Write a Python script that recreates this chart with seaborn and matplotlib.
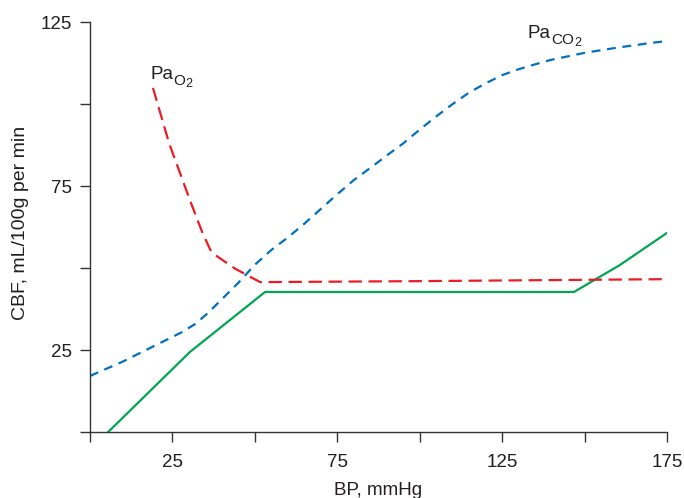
import matplotlib
matplotlib.use("Agg")
import matplotlib.pyplot as plt
import seaborn as sns
import pandas as pd

# Data
auto_x = [5.5, 30.3, 53.1, 146.8, 160.7, 175]
auto_y = [0, 24.4, 42.7, 42.7, 50.9, 60.7]

pao2_x = [19.1, 24, 30.3, 34, 36.5, 38.5, 44, 51.6, 100, 175]
pao2_y = [104.9, 88, 70.7, 61, 55.5, 53.6, 49.8, 45.7, 46.0, 46.6]

paco2_x = [0, 10, 20, 28, 32, 36, 40, 45, 50, 55, 60, 65, 70, 75, 80, 85, 90, 95,
           100, 105, 110, 115, 120, 125, 130, 135, 140, 150, 160, 170, 175]
paco2_y = [17.1, 21.5, 26.5, 30.5, 33, 36.5, 40.5, 45.5, 51, 55.5, 59.3, 63.5, 68,
           72.5, 76.8, 80.5, 84.3, 88, 92.2, 96.2, 100, 103.5, 106.3, 108.8, 110.6,
           112.1, 113.5, 115.6, 117.2, 118.6, 119.2]

x_ticks = [0, 25, 50, 75, 100, 125, 150, 175]
x_labels = ["", "25", "", "75", "", "125", "", "175"]
y_ticks = [0, 25, 50, 75, 100, 125]
y_labels = ["", "25", "", "75", "", "125"]

sns.set_style("ticks")
plt.rcParams['font.family'] = ['Liberation Sans', 'DejaVu Sans']

FS = 13.5
TXT = "#231f20"

fig = plt.figure(figsize=(6.84, 4.98), dpi=100)
ax = fig.add_axes([0.1316, 0.1325, 0.9751 - 0.1316, 0.9558 - 0.1325])

df_a = pd.DataFrame({"x": auto_x, "y": auto_y})
df_o = pd.DataFrame({"x": pao2_x, "y": pao2_y})
df_c = pd.DataFrame({"x": paco2_x, "y": paco2_y})

sns.lineplot(data=df_a, x="x", y="y", ax=ax, color="#00a651", lw=1.6, sort=False)
sns.lineplot(data=df_o, x="x", y="y", ax=ax, color="#ed1c24", lw=1.6, sort=False,
             linestyle=(0, (6, 3)))
sns.lineplot(data=df_c, x="x", y="y", ax=ax, color="#0070c0", lw=1.6, sort=False,
             linestyle=(0, (4, 3)))

ax.set_xlim(0, 175)
ax.set_ylim(0, 125)
ax.set_xticks(x_ticks)
ax.set_xticklabels(x_labels)
ax.set_yticks(y_ticks)
ax.set_yticklabels(y_labels)
ax.tick_params(axis="both", direction="out", length=7, width=1, labelsize=FS,
               color="#333333", labelcolor=TXT)
ax.tick_params(axis="x", pad=9)
ax.tick_params(axis="y", pad=6)
for s in ["top", "right"]:
    ax.spines[s].set_visible(False)
for s in ["left", "bottom"]:
    ax.spines[s].set_linewidth(1)
    ax.spines[s].set_color("#333333")

ax.set_xlabel("BP, mmHg", fontsize=FS, color=TXT, labelpad=8)
ax.set_ylabel("CBF, mL/100g per min", fontsize=14, color=TXT, labelpad=7)
ax.yaxis.set_label_coords(-0.105, 0.51)


def sub_label(x, y, sub):
    t1 = ax.text(x, y, "Pa", fontsize=FS, color=TXT, va="baseline")
    t2 = ax.annotate(sub, xy=(1, 0), xycoords=t1, xytext=(0.3, -1.5),
                     textcoords="offset points", fontsize=11, color=TXT,
                     va="baseline", ha="left")
    ax.annotate("2", xy=(1, 0), xycoords=t2, xytext=(0.3, 0.8),
                textcoords="offset points", fontsize=9, color=TXT,
                va="baseline", ha="left")


sub_label(18.2, 107.5, "O")
sub_label(132.8, 120.0, "CO")

fig.savefig("out.png", dpi=100)
